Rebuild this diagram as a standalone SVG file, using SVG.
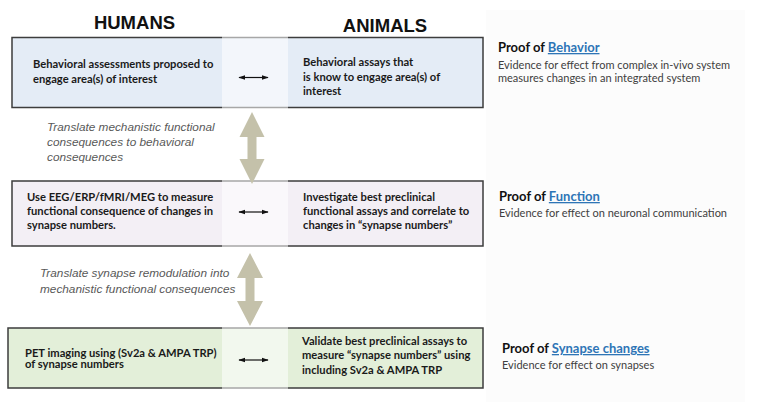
<svg xmlns="http://www.w3.org/2000/svg" width="758" height="412" viewBox="0 0 758 412">
<style>
  .hdr{font-family:"Liberation Sans",Arial,sans-serif;font-weight:bold;font-size:18.5px;fill:#111;text-anchor:middle}
  .box{stroke:#3d3d3d;stroke-width:1.5}
  .bt{font-family:Lato,"Liberation Sans",sans-serif;font-weight:bold;font-size:11.2px;fill:#1a1a1a}
  .it{font-family:"Liberation Sans",Arial,sans-serif;font-style:italic;font-size:11.8px;fill:#595959}
  .pt{font-family:Lato,"Liberation Sans",sans-serif;font-weight:bold;font-size:13px;fill:#111}
  .pl{fill:#2e75b6;text-decoration:underline}
  .pd{font-family:Lato,"Liberation Sans",sans-serif;font-size:11px;fill:#404040}
  .va{fill:#c4c1aa}
  .ha{stroke:#111;stroke-width:1.2;fill:none;marker-start:url(#ah);marker-end:url(#ah)}
</style>
<defs>
  <marker id="ah" viewBox="0 0 10 10" refX="9" refY="5" markerWidth="7" markerHeight="7" markerUnits="userSpaceOnUse" orient="auto-start-reverse">
    <path d="M0,1.5 L10,5 L0,8.5 z" fill="#111"/>
  </marker>
</defs>
<rect x="0" y="0" width="758" height="412" fill="#ffffff"/>
<rect x="486" y="10" width="259" height="392" fill="#fcfcfc"/>

<g id="headers">
  <text class="hdr" x="134.5" y="29">HUMANS</text>
  <text class="hdr" x="385" y="32">ANIMALS</text>
</g>

<g id="row-behavior">
  <rect class="box" x="12" y="37.5" width="471" height="70" fill="#e4ecf6"/>
  <text class="bt" x="33" y="68">Behavioral assessments proposed to</text>
  <text class="bt" x="33" y="82.5">engage area(s) of interest</text>
  <text class="bt" x="303" y="66">Behavioral assays that</text>
  <text class="bt" x="303" y="80.5">is know to engage area(s) of</text>
  <text class="bt" x="303" y="95">interest</text>
</g>

<g id="row-function">
  <rect class="box" x="12" y="181" width="471" height="65" fill="#f3eff5"/>
  <text class="bt" x="27" y="201">Use EEG/ERP/fMRI/MEG to measure</text>
  <text class="bt" x="27" y="215">functional consequence of changes in</text>
  <text class="bt" x="27" y="229">synapse numbers.</text>
  <text class="bt" x="303" y="201">Investigate best preclinical</text>
  <text class="bt" x="303" y="215">functional assays and correlate to</text>
  <text class="bt" x="303" y="229">changes in “synapse numbers”</text>
</g>

<g id="row-synapse">
  <rect class="box" x="8" y="328" width="475" height="60" fill="#e3efd9"/>
  <text class="bt" x="25" y="356.5">PET imaging using (Sv2a &amp; AMPA TRP)</text>
  <text class="bt" x="25" y="368">of synapse numbers</text>
  <text class="bt" x="302" y="344.5">Validate best preclinical assays to</text>
  <text class="bt" x="302" y="359">measure “synapse numbers” using</text>
  <text class="bt" x="302" y="373.5">including Sv2a &amp; AMPA TRP</text>
</g>

<rect id="band" x="222" y="12" width="66" height="400" fill="#ffffff" fill-opacity="0.55"/>

<g id="label-translate-1">
  <text class="it" x="47" y="131">Translate mechanistic functional</text>
  <text class="it" x="47" y="146">consequences to behavioral</text>
  <text class="it" x="47" y="161">consequences</text>
</g>
<g id="label-translate-2">
  <text class="it" x="40" y="277">Translate synapse remodulation into</text>
  <text class="it" x="40" y="292.5">mechanistic functional consequences</text>
</g>

<g id="proof-behavior">
  <text class="pt" x="498" y="52">Proof of <tspan class="pl">Behavior</tspan></text>
  <text class="pd" x="498" y="68.5">Evidence for effect from complex in-vivo system</text>
  <text class="pd" x="498" y="81.5">measures changes in an integrated system</text>
</g>
<g id="proof-function">
  <text class="pt" x="499" y="201">Proof of <tspan class="pl">Function</tspan></text>
  <text class="pd" x="499" y="216.5">Evidence for effect on neuronal communication</text>
</g>
<g id="proof-synapse">
  <text class="pt" x="502" y="353">Proof of <tspan class="pl">Synapse changes</tspan></text>
  <text class="pd" x="502" y="368.5">Evidence for effect on synapses</text>
</g>

<g id="connectors">
  <polygon class="va" points="252,112 264.5,137 256.5,137 256.5,159 264.5,159 252,184 239.5,159 247.5,159 247.5,137 239.5,137"/>
  <polygon class="va" points="250,253 263,278 254.5,278 254.5,301 263,301 250,326 237,301 245.5,301 245.5,278 237,278"/>
  <line class="ha" x1="239" y1="77.5" x2="268" y2="77.5"/>
  <line class="ha" x1="239" y1="212" x2="268" y2="212"/>
  <line class="ha" x1="239" y1="360" x2="268" y2="360"/>
</g>
</svg>
